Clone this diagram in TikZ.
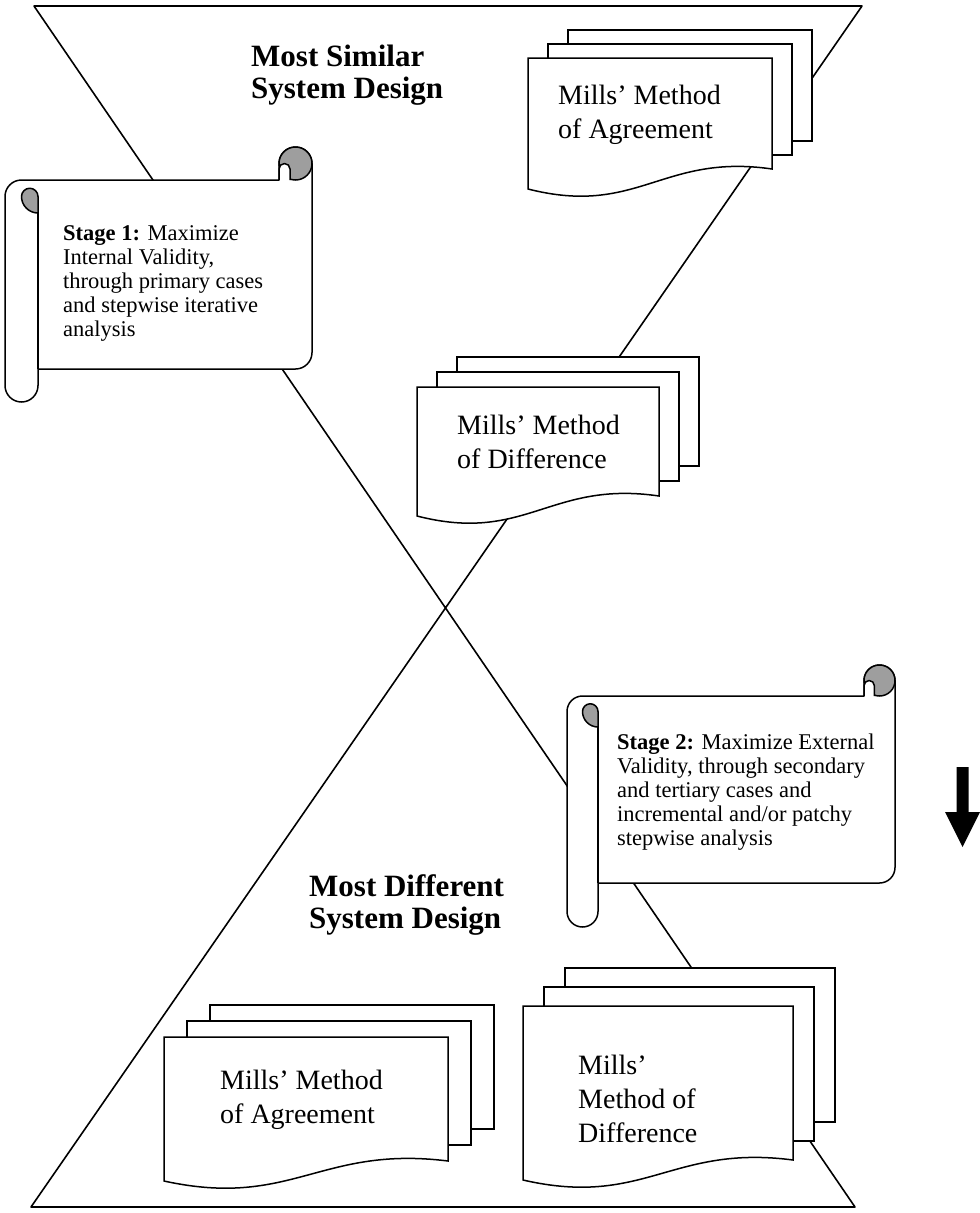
\documentclass[tikz,border=0pt]{standalone}
\usepackage{fontspec}
\setmainfont{Liberation Serif}
\definecolor{rollgray}{gray}{0.62}
% a stack of three pages: left, top, width, height, shift x, shift y
\newcommand{\pagestack}[6]{%
  \foreach \k in {2,1}
    \filldraw[page] ({#1+\k*#5},{-#2+\k*#6}) rectangle ++(#3,-#4);
  \filldraw[page] (#1,-#2) -- ++(#3,0) -- ++(0,-#4)
    .. controls ({#1+0.55*#3},{-#2-#4+16}) and ({#1+0.45*#3},{-#2-#4-48}) .. ({#1},{-#2-#4-20}) -- cycle;
}
% a scroll: left, top, right, sheet bottom, roll bottom, roll size
\newcommand{\stagescroll}[6]{%
  \pgfmathsetmacro\ha{#6/2}
  \pgfmathsetmacro\qa{#6/4}
  \filldraw[scroll] (#1,{-#2-1.5*#6}) arc (180:90:\ha) -- ({#3-#6},{-#2-#6}) -- ({#3-#6},{-#2-\ha})
    arc (180:0:\ha) -- (#3,{-#4+\ha}) arc (0:-90:\ha) -- ({#1+#6},-#4) -- ({#1+#6},{-#5+\ha})
    arc (0:-180:\ha) -- cycle;
  \draw[scroll] ({#1+#6},{-#2-2*#6}) -- ({#1+#6},-#4);
  \filldraw[scroll,fill=rollgray] ({#1+#6},{-#2-1.5*#6}) arc (0:180:\qa) arc (180:270:\ha) -- cycle;
  \filldraw[scroll,fill=rollgray] ({#3-\ha},{-#2-\ha}) circle (\ha);
  \filldraw[scroll,fill=white] ({#3-#6},{-#2-#6}) -- ({#3-#6},{-#2-\ha-#6/6}) arc (180:0:{#6/6}) -- ({#3-#6+#6/3},{-#2-#6});
}
\begin{document}
\begin{tikzpicture}[x=1pt, y=1pt, line join=round,
  frame/.style={line width=1.6pt},
  page/.style={draw, fill=white, line width=1.5pt, line join=miter},
  scroll/.style={draw, fill=white, line width=1.5pt},
  title/.style={font=\bfseries\fontsize{31}{32}\selectfont, align=left, inner sep=0pt, anchor=base west},
  milltext/.style={font=\fontsize{28}{34}\selectfont, align=left, inner sep=0pt, anchor=base west},
  stagetext/.style={font=\fontsize{22.5}{24}\selectfont, align=left, inner sep=0pt, anchor=base west}]
    \useasboundingbox (0,0) rectangle (980,-1213);
    % hourglass
    \coordinate (tl) at (34,-6);
    \coordinate (tr) at (862,-6);
    \coordinate (bl) at (31,-1207);
    \coordinate (br) at (855,-1207);
    \draw[frame] (tl) -- (tr) -- (bl) -- (br) -- cycle;
    % pages and scrolls
    \pagestack{528}{58}{244}{111}{20}{14}
    \pagestack{417}{387}{242}{109}{20}{15}
    \pagestack{164}{1037}{284}{124}{23}{16}
    \pagestack{523}{1006}{270}{154}{21}{19}
    \stagescroll{5}{147}{312}{369}{402}{33}
    \stagescroll{567}{665}{895}{883}{927}{31}
    % texts (anchored at the last baseline)
    \node[title] (similar) at (251,-98) {Most Similar\\System Design};
    \node[title] (different) at (309,-928) {Most Different\\System Design};
    \node[milltext] (agreetop) at (558,-138) {Mills’ Method\\of Agreement};
    \node[milltext] (difftop) at (457,-468) {Mills’ Method\\of Difference};
    \node[milltext] (agreebot) at (220,-1123) {Mills’ Method\\of Agreement};
    \node[milltext] (diffbot) at (578,-1142) {Mills’\\Method of\\Difference};
    \node[stagetext] (stageone) at (63,-336) {\textbf{Stage 1:} Maximize\\Internal Validity,\\through primary cases\\and stepwise iterative\\analysis};
    \node[stagetext] (stagetwo) at (617,-845) {\textbf{Stage 2:} Maximize External\\Validity, through secondary\\and tertiary cases and\\incremental and/or patchy\\stepwise analysis};
    % arrow
    \fill (956.5,-767) -- (968.5,-767) -- (968.5,-812) -- (980,-812) -- (962.5,-847) -- (945,-812) -- (956.5,-812) -- cycle;
\end{tikzpicture}
\end{document}
